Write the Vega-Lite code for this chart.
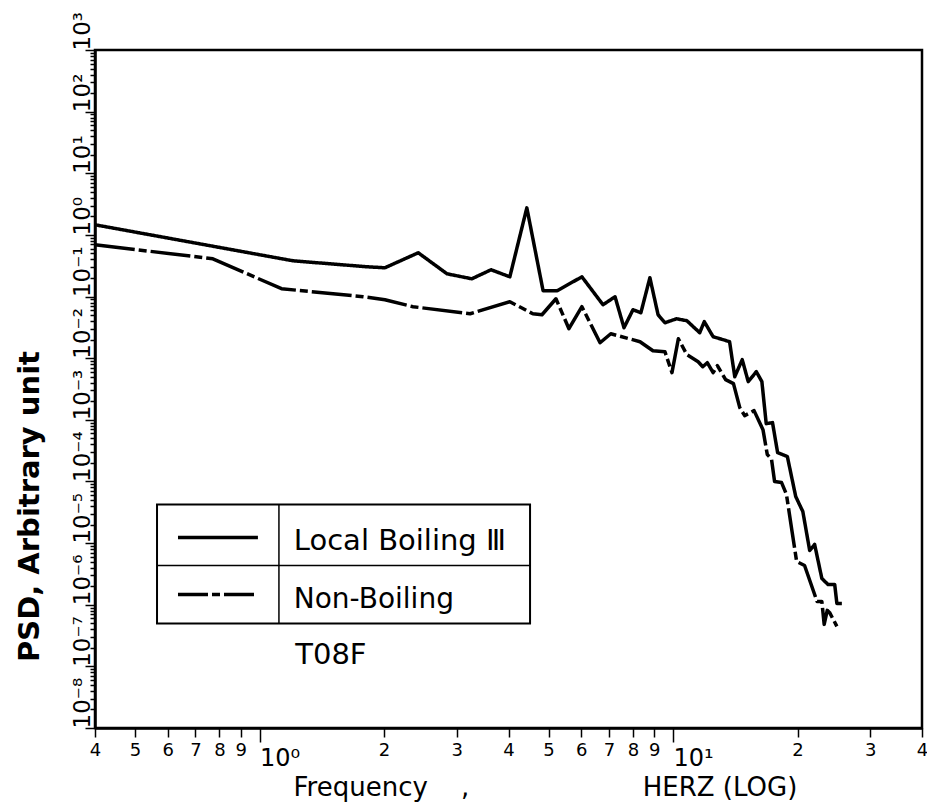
{
  "$schema": "https://vega.github.io/schema/vega-lite/v6.json",
  "width": 827,
  "height": 678,
  "autosize": {"type": "none"},
  "padding": {"left": 95, "top": 50, "right": 5, "bottom": 74},
  "background": "white",
  "config": {
    "view": {"stroke": "black", "strokeWidth": 2.5},
    "font": "DejaVu Sans"
  },
  "datasets": {
    "psd": [
      {"series": "Local Boiling", "f": 0.40, "psd": 1.46},
      {"series": "Local Boiling", "f": 1.205, "psd": 0.380},
      {"series": "Local Boiling", "f": 1.82, "psd": 0.304},
      {"series": "Local Boiling", "f": 2.01, "psd": 0.293},
      {"series": "Local Boiling", "f": 2.42, "psd": 0.513},
      {"series": "Local Boiling", "f": 2.84, "psd": 0.234},
      {"series": "Local Boiling", "f": 3.26, "psd": 0.194},
      {"series": "Local Boiling", "f": 3.63, "psd": 0.272},
      {"series": "Local Boiling", "f": 4.03, "psd": 0.209},
      {"series": "Local Boiling", "f": 4.43, "psd": 2.75},
      {"series": "Local Boiling", "f": 4.85, "psd": 0.124},
      {"series": "Local Boiling", "f": 5.24, "psd": 0.124},
      {"series": "Local Boiling", "f": 6.02, "psd": 0.209},
      {"series": "Local Boiling", "f": 6.77, "psd": 0.0736},
      {"series": "Local Boiling", "f": 7.24, "psd": 0.0993},
      {"series": "Local Boiling", "f": 7.61, "psd": 0.0312},
      {"series": "Local Boiling", "f": 8.00, "psd": 0.0611},
      {"series": "Local Boiling", "f": 8.36, "psd": 0.0546},
      {"series": "Local Boiling", "f": 8.79, "psd": 0.202},
      {"series": "Local Boiling", "f": 9.20, "psd": 0.0507},
      {"series": "Local Boiling", "f": 9.56, "psd": 0.0376},
      {"series": "Local Boiling", "f": 10.2, "psd": 0.0436},
      {"series": "Local Boiling", "f": 10.8, "psd": 0.0405},
      {"series": "Local Boiling", "f": 11.6, "psd": 0.0259},
      {"series": "Local Boiling", "f": 11.9, "psd": 0.0391},
      {"series": "Local Boiling", "f": 12.5, "psd": 0.0223},
      {"series": "Local Boiling", "f": 13.2, "psd": 0.0200},
      {"series": "Local Boiling", "f": 13.7, "psd": 0.0185},
      {"series": "Local Boiling", "f": 14.1, "psd": 0.00501},
      {"series": "Local Boiling", "f": 14.7, "psd": 0.00946},
      {"series": "Local Boiling", "f": 15.2, "psd": 0.00416},
      {"series": "Local Boiling", "f": 15.9, "psd": 0.00604},
      {"series": "Local Boiling", "f": 16.4, "psd": 0.00416},
      {"series": "Local Boiling", "f": 16.8, "psd": 0.000867},
      {"series": "Local Boiling", "f": 17.4, "psd": 0.000901},
      {"series": "Local Boiling", "f": 17.9, "psd": 0.000294},
      {"series": "Local Boiling", "f": 18.9, "psd": 0.000253},
      {"series": "Local Boiling", "f": 19.8, "psd": 0.0000569},
      {"series": "Local Boiling", "f": 20.6, "psd": 0.0000325},
      {"series": "Local Boiling", "f": 21.4, "psd": 0.00000759},
      {"series": "Local Boiling", "f": 22.0, "psd": 0.0000095},
      {"series": "Local Boiling", "f": 22.9, "psd": 0.00000267},
      {"series": "Local Boiling", "f": 23.7, "psd": 0.00000213},
      {"series": "Local Boiling", "f": 24.6, "psd": 0.00000213},
      {"series": "Local Boiling", "f": 24.9, "psd": 0.00000105},
      {"series": "Local Boiling", "f": 25.6, "psd": 0.00000105},
      {"series": "Non-Boiling", "f": 0.40, "psd": 0.692},
      {"series": "Non-Boiling", "f": 0.771, "psd": 0.410},
      {"series": "Non-Boiling", "f": 1.13, "psd": 0.134},
      {"series": "Non-Boiling", "f": 1.78, "psd": 0.0993},
      {"series": "Non-Boiling", "f": 2.01, "psd": 0.0887},
      {"series": "Non-Boiling", "f": 2.35, "psd": 0.0684},
      {"series": "Non-Boiling", "f": 3.23, "psd": 0.0526},
      {"series": "Non-Boiling", "f": 4.03, "psd": 0.0824},
      {"series": "Non-Boiling", "f": 4.58, "psd": 0.0526},
      {"series": "Non-Boiling", "f": 4.82, "psd": 0.0507},
      {"series": "Non-Boiling", "f": 5.21, "psd": 0.092},
      {"series": "Non-Boiling", "f": 5.60, "psd": 0.0301},
      {"series": "Non-Boiling", "f": 6.02, "psd": 0.0684},
      {"series": "Non-Boiling", "f": 6.66, "psd": 0.0178},
      {"series": "Non-Boiling", "f": 7.07, "psd": 0.0249},
      {"series": "Non-Boiling", "f": 8.32, "psd": 0.0185},
      {"series": "Non-Boiling", "f": 8.94, "psd": 0.0132},
      {"series": "Non-Boiling", "f": 9.56, "psd": 0.0127},
      {"series": "Non-Boiling", "f": 9.94, "psd": 0.00582},
      {"series": "Non-Boiling", "f": 10.3, "psd": 0.0207},
      {"series": "Non-Boiling", "f": 10.8, "psd": 0.0114},
      {"series": "Non-Boiling", "f": 11.5, "psd": 0.00877},
      {"series": "Non-Boiling", "f": 11.8, "psd": 0.00727},
      {"series": "Non-Boiling", "f": 12.1, "psd": 0.00845},
      {"series": "Non-Boiling", "f": 12.5, "psd": 0.00582},
      {"series": "Non-Boiling", "f": 12.8, "psd": 0.00755},
      {"series": "Non-Boiling", "f": 13.4, "psd": 0.00449},
      {"series": "Non-Boiling", "f": 14.0, "psd": 0.00386},
      {"series": "Non-Boiling", "f": 14.5, "psd": 0.00158},
      {"series": "Non-Boiling", "f": 14.9, "psd": 0.00117},
      {"series": "Non-Boiling", "f": 15.7, "psd": 0.00141},
      {"series": "Non-Boiling", "f": 16.5, "psd": 0.000693},
      {"series": "Non-Boiling", "f": 16.9, "psd": 0.000273},
      {"series": "Non-Boiling", "f": 17.3, "psd": 0.000232},
      {"series": "Non-Boiling", "f": 17.6, "psd": 0.0000998},
      {"series": "Non-Boiling", "f": 18.3, "psd": 0.000096},
      {"series": "Non-Boiling", "f": 18.8, "psd": 0.000062},
      {"series": "Non-Boiling", "f": 19.4, "psd": 0.0000154},
      {"series": "Non-Boiling", "f": 19.9, "psd": 0.00000503},
      {"series": "Non-Boiling", "f": 20.8, "psd": 0.00000433},
      {"series": "Non-Boiling", "f": 22.3, "psd": 0.00000113},
      {"series": "Non-Boiling", "f": 22.9, "psd": 0.00000113},
      {"series": "Non-Boiling", "f": 23.2, "psd": 0.00000048},
      {"series": "Non-Boiling", "f": 23.6, "psd": 0.00000081},
      {"series": "Non-Boiling", "f": 23.9, "psd": 0.00000075},
      {"series": "Non-Boiling", "f": 24.9, "psd": 0.000000446}
    ]
  },
  "layer": [
    {
      "data": {"name": "psd"},
      "mark": {"type": "line", "color": "black", "strokeWidth": 3.5, "strokeJoin": "round", "strokeCap": "butt"},
      "encoding": {
        "x": {
          "field": "f",
          "type": "quantitative",
          "scale": {"type": "log", "domain": [0.4, 40], "nice": false},
          "axis": {
            "values": [0.4, 0.5, 0.6, 0.7, 0.8, 0.9, 1, 2, 3, 4, 5, 6, 7, 8, 9, 10, 20, 30, 40],
            "labelExpr": "datum.value == 1 ? '10⁰' : datum.value == 10 ? '10¹' : '' + round(datum.value < 1 ? datum.value * 10 : datum.value < 10 ? datum.value : datum.value / 10)",
            "labelFont": "DejaVu Sans",
            "labelFontSize": {"condition": {"test": "datum.value == 1 || datum.value == 10", "value": 24}, "value": 18},
            "labelAlign": {"condition": {"test": "datum.value == 1 || datum.value == 10", "value": "left"}, "value": "center"},
            "labelBaseline": "top",
            "labelColor": "black",
            "labelPadding": 4,
            "labelOverlap": false,
            "labelFlush": false,
            "labelBound": false,
            "tickSize": {"condition": {"test": "datum.value == 1 || datum.value == 10", "value": 14}, "value": 9},
            "tickColor": "black",
            "tickWidth": 1.5,
            "domainColor": "black",
            "domainWidth": 2.5,
            "grid": false,
            "title": "Frequency\u00a0\u00a0\u00a0\u00a0,\u00a0\u00a0\u00a0\u00a0\u00a0\u00a0\u00a0\u00a0\u00a0\u00a0\u00a0\u00a0\u00a0\u00a0\u00a0\u00a0\u00a0\u00a0\u00a0\u00a0\u00a0HERZ (LOG)",
            "titleFont": "DejaVu Sans",
            "titleFontSize": 26,
            "titleFontWeight": "normal",
            "titleColor": "black",
            "titleX": 198,
            "titleY": 67,
            "titleAlign": "left",
            "titleBaseline": "alphabetic"
          }
        },
        "y": {
          "field": "psd",
          "type": "quantitative",
          "scale": {"type": "log", "domain": [1e-8, 1000], "nice": false},
          "axis": {
            "values": [
              1e-8, 2e-8, 3e-8, 4e-8, 5e-8, 6e-8, 7e-8, 8e-8, 9e-8,
              1e-7, 2e-7, 3e-7, 4e-7, 5e-7, 6e-7, 7e-7, 8e-7, 9e-7,
              1e-6, 2e-6, 3e-6, 4e-6, 5e-6, 6e-6, 7e-6, 8e-6, 9e-6,
              1e-5, 2e-5, 3e-5, 4e-5, 5e-5, 6e-5, 7e-5, 8e-5, 9e-5,
              0.0001, 0.0002, 0.0003, 0.0004, 0.0005, 0.0006, 0.0007, 0.0008, 0.0009,
              0.001, 0.002, 0.003, 0.004, 0.005, 0.006, 0.007, 0.008, 0.009,
              0.01, 0.02, 0.03, 0.04, 0.05, 0.06, 0.07, 0.08, 0.09,
              0.1, 0.2, 0.3, 0.4, 0.5, 0.6, 0.7, 0.8, 0.9,
              1, 2, 3, 4, 5, 6, 7, 8, 9,
              10, 20, 30, 40, 50, 60, 70, 80, 90,
              100, 200, 300, 400, 500, 600, 700, 800, 900,
              1000
            ],
            "labelExpr": "datum.value == 1000 ? '10³' : datum.value == 100 ? '10²' : datum.value == 10 ? '10¹' : datum.value == 1 ? '10⁰' : datum.value == 0.1 ? '10⁻¹' : datum.value == 0.01 ? '10⁻²' : datum.value == 0.001 ? '10⁻³' : datum.value == 0.0001 ? '10⁻⁴' : datum.value == 1e-5 ? '10⁻⁵' : datum.value == 1e-6 ? '10⁻⁶' : datum.value == 1e-7 ? '10⁻⁷' : datum.value == 1e-8 ? '10⁻⁸' : ''",
            "labelFont": "DejaVu Sans",
            "labelFontSize": 23,
            "labelAngle": 270,
            "labelAlign": "left",
            "labelBaseline": "alphabetic",
            "labelColor": "black",
            "labelPadding": -4,
            "labelOverlap": false,
            "labelFlush": false,
            "labelBound": false,
            "tickSize": {"condition": {"test": "abs(log(datum.value) / LN10 - round(log(datum.value) / LN10)) < 1e-6", "value": 10}, "value": 5},
            "tickColor": "black",
            "tickWidth": 1.5,
            "domainColor": "black",
            "domainWidth": 2.5,
            "grid": false,
            "title": "PSD, Arbitrary unit",
            "titleFont": "DejaVu Sans",
            "titleFontSize": 29,
            "titleFontWeight": "bold",
            "titleColor": "black",
            "titleAngle": 270,
            "titleX": -57,
            "titleY": 456,
            "titleAlign": "center",
            "titleBaseline": "alphabetic"
          }
        },
        "strokeDash": {
          "field": "series",
          "type": "nominal",
          "scale": {"domain": ["Local Boiling", "Non-Boiling"], "range": [[1, 0], [40, 4, 8, 4]]},
          "legend": null
        }
      }
    },
    {
      "data": {"values": [{}]},
      "mark": {"type": "rect", "filled": false, "stroke": "black", "strokeWidth": 2},
      "encoding": {
        "x": {"datum": 0.565, "type": "quantitative"},
        "x2": {"datum": 4.51},
        "y": {"datum": 0.0000423, "type": "quantitative"},
        "y2": {"datum": 0.000000498}
      }
    },
    {
      "data": {"values": [{}]},
      "mark": {"type": "rule", "color": "black", "strokeWidth": 1.5},
      "encoding": {
        "x": {"datum": 0.565, "type": "quantitative"},
        "x2": {"datum": 4.51},
        "y": {"datum": 0.00000433, "type": "quantitative"}
      }
    },
    {
      "data": {"values": [{}]},
      "mark": {"type": "rule", "color": "black", "strokeWidth": 1.5},
      "encoding": {
        "x": {"datum": 1.114, "type": "quantitative"},
        "y": {"datum": 0.0000423, "type": "quantitative"},
        "y2": {"datum": 0.000000498}
      }
    },
    {
      "data": {"values": [{}]},
      "mark": {"type": "rule", "color": "black", "strokeWidth": 3.5},
      "encoding": {
        "x": {"datum": 0.635, "type": "quantitative"},
        "x2": {"datum": 0.991},
        "y": {"datum": 0.0000123, "type": "quantitative"}
      }
    },
    {
      "data": {"values": [{}]},
      "mark": {"type": "rule", "color": "black", "strokeWidth": 3.5, "strokeDash": [30, 4, 8, 4]},
      "encoding": {
        "x": {"datum": 0.635, "type": "quantitative"},
        "x2": {"datum": 0.991},
        "y": {"datum": 0.00000147, "type": "quantitative"}
      }
    },
    {
      "data": {"values": [{}]},
      "mark": {"type": "text", "align": "left", "baseline": "alphabetic", "font": "DejaVu Sans", "fontSize": 29, "color": "black", "text": "Local Boiling\u00a0Ⅲ"},
      "encoding": {
        "x": {"datum": 1.21, "type": "quantitative"},
        "y": {"datum": 0.00000759, "type": "quantitative"}
      }
    },
    {
      "data": {"values": [{}]},
      "mark": {"type": "text", "align": "left", "baseline": "alphabetic", "font": "DejaVu Sans", "fontSize": 28, "color": "black", "text": "Non-Boiling"},
      "encoding": {
        "x": {"datum": 1.21, "type": "quantitative"},
        "y": {"datum": 0.0000009, "type": "quantitative"}
      }
    },
    {
      "data": {"values": [{}]},
      "mark": {"type": "text", "align": "left", "baseline": "alphabetic", "font": "DejaVu Sans", "fontSize": 29, "color": "black", "text": "T08F"},
      "encoding": {
        "x": {"datum": 1.22, "type": "quantitative"},
        "y": {"datum": 0.000000108, "type": "quantitative"}
      }
    }
  ]
}
